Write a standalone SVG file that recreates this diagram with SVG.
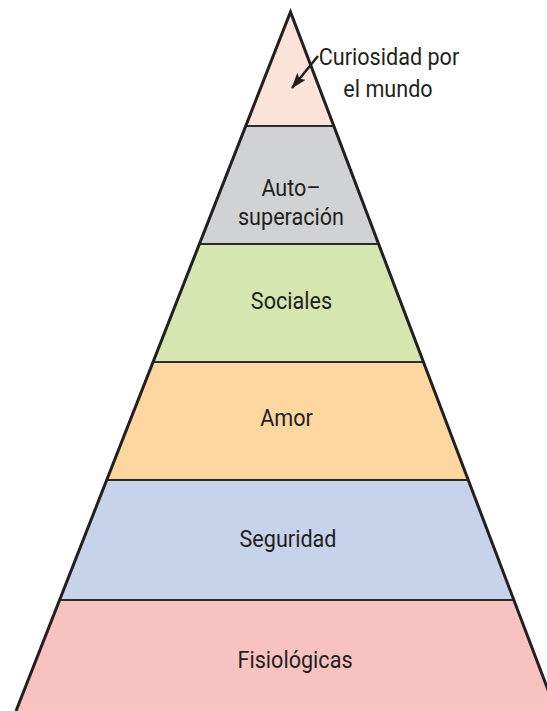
<svg xmlns="http://www.w3.org/2000/svg" width="547" height="711" viewBox="0 0 547 711">
<style>
.lbl{font-family:Roboto,"Liberation Sans",sans-serif;font-size:24px;fill:#231F20;text-anchor:middle}
.sep{stroke:#2b2b2b;stroke-width:2}
.outline{fill:none;stroke:#231F20;stroke-width:3;stroke-linejoin:miter}
</style>
<defs>
<marker id="ah" markerWidth="16" markerHeight="11" refX="15" refY="5.5" orient="auto" markerUnits="userSpaceOnUse" viewBox="0 0 16 11">
<path d="M0,0 L16,5.5 L0,11 L3,5.5 Z" fill="#231F20"/>
</marker>
</defs>
<rect width="547" height="711" fill="#ffffff"/>
<g id="n-curiosidad">
<polygon points="290.5,12 333.8,126 245.73,126" fill="#FCE3D9"/>
<text class="lbl" transform="translate(389,65) scale(0.9,1)">Curiosidad por</text>
<text class="lbl" transform="translate(388,97) scale(0.9,1)">el mundo</text>
</g>
<g id="n-auto">
<polygon points="245.73,126 333.8,126 378.62,244 199.39,244" fill="#D1D2D4"/>
<text class="lbl" transform="translate(291,196) scale(0.9,1)">Auto–</text>
<text class="lbl" transform="translate(291,225) scale(0.9,1)">superación</text>
</g>
<g id="n-sociales">
<polygon points="199.39,244 378.62,244 423.44,362 153.05,362" fill="#D7E5B1"/>
<text class="lbl" transform="translate(291.5,309) scale(0.9,1)">Sociales</text>
</g>
<g id="n-amor">
<polygon points="153.05,362 423.44,362 468.26,480 106.72,480" fill="#FED69F"/>
<text class="lbl" transform="translate(286.5,426) scale(0.9,1)">Amor</text>
</g>
<g id="n-seguridad">
<polygon points="106.72,480 468.26,480 513.84,600 59.59,600" fill="#C6D3EA"/>
<text class="lbl" transform="translate(288,547) scale(0.9,1)">Seguridad</text>
</g>
<g id="n-fisiologicas">
<polygon points="59.59,600 513.84,600 556,711 16,711" fill="#F8C2C0"/>
<text class="lbl" transform="translate(295,668) scale(0.9,1)">Fisiológicas</text>
</g>
<g id="separators">
<line class="sep" x1="245.73" y1="126" x2="333.8" y2="126"/>
<line class="sep" x1="199.39" y1="244" x2="378.62" y2="244"/>
<line class="sep" x1="153.05" y1="362" x2="423.44" y2="362"/>
<line class="sep" x1="106.72" y1="480" x2="468.26" y2="480"/>
<line class="sep" x1="59.59" y1="600" x2="513.84" y2="600"/>
</g>
<polyline class="outline" points="16,711 290.5,12 556,711"/>
<g id="connectors">
<line x1="318" y1="56" x2="292" y2="88" stroke="#231F20" stroke-width="2.5" marker-end="url(#ah)"/>
</g>
</svg>
